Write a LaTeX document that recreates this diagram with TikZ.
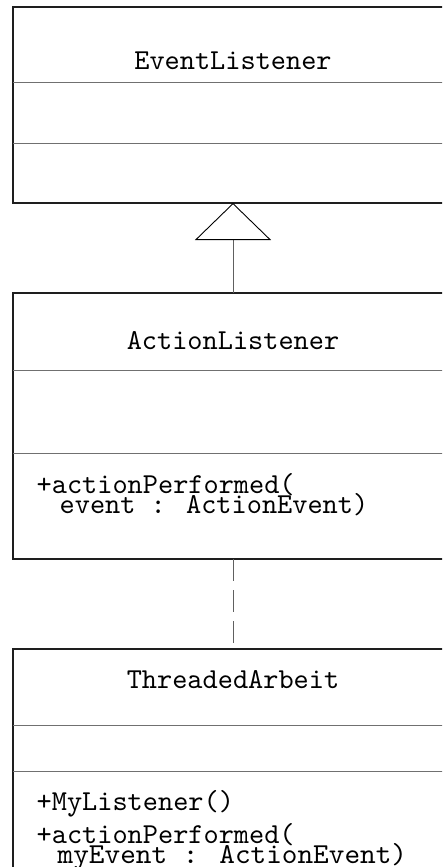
\documentclass[tikz,border=0pt]{standalone}
\usepackage{graphicx}
\usetikzlibrary{arrows.meta}
\definecolor{bordercol}{HTML}{1E1E1E}
\definecolor{divcol}{HTML}{707070}
\definecolor{linkcol}{HTML}{606060}
\newcommand{\umltext}[1]{\scalebox{2.89}{\fontsize{10}{7}\selectfont\ttfamily #1}}
\newcommand{\umlwide}[1]{\scalebox{2.98}[2.89]{\fontsize{10}{7}\selectfont\ttfamily #1}}
\begin{document}
\begin{tikzpicture}[x=1pt,y=-1pt,
  classbox/.style={draw=bordercol, line width=2.8pt, rectangle, outer sep=0pt, inner sep=0pt, minimum width=440pt},
  divider/.style={draw=divcol, line width=1pt},
  title/.style={anchor=base, inner sep=0pt},
  member/.style={anchor=base west, inner sep=0pt},
  inherit/.style={draw=linkcol, line width=1pt, -{Triangle[open, length=37pt, width=76pt, line width=0.9pt, color=black, fill=white]}},
  realize/.style={draw=linkcol, line width=1pt, dash pattern=on 22pt off 9pt}
]
\useasboundingbox (0,0) rectangle (442,867);
\clip (0,0) rectangle (442,867);

% EventListener
\node[classbox, minimum height=196pt] (ev) at (233,105) {};
\draw[divider] (13,82) -- (453,82);
\draw[divider] (13,143) -- (453,143);
\node[title] (evt) at (233,70) {\umltext{EventListener}};

% ActionListener
\node[classbox, minimum height=266pt] (al) at (233,426) {};
\draw[divider] (13,370) -- (453,370);
\draw[divider] (13,453) -- (453,453);
\node[title] (alt) at (233,349) {\umltext{ActionListener}};
\node[member] (alm1) at (36.5,493) {\umltext{+actionPerformed(}};
\node[member] (alm2) at (59.5,513) {\umltext{event : ActionEvent)}};

% ThreadedArbeit
\node[classbox, minimum height=260pt] (ta) at (233,779) {};
\draw[divider] (13,725) -- (453,725);
\draw[divider] (13,771) -- (453,771);
\node[title] (tat) at (233,688) {\umltext{ThreadedArbeit}};
\node[member] (tam1) at (36.5,810) {\umltext{+MyListener()}};
\node[member] (tam2) at (36.5,843) {\umltext{+actionPerformed(}};
\node[member] (tam3) at (57.5,863) {\umlwide{myEvent : ActionEvent)}};

% connectors
\draw[inherit] (al.north) -- (ev.south);
\draw[realize] (al.south) -- (ta.north);
\end{tikzpicture}
\end{document}
